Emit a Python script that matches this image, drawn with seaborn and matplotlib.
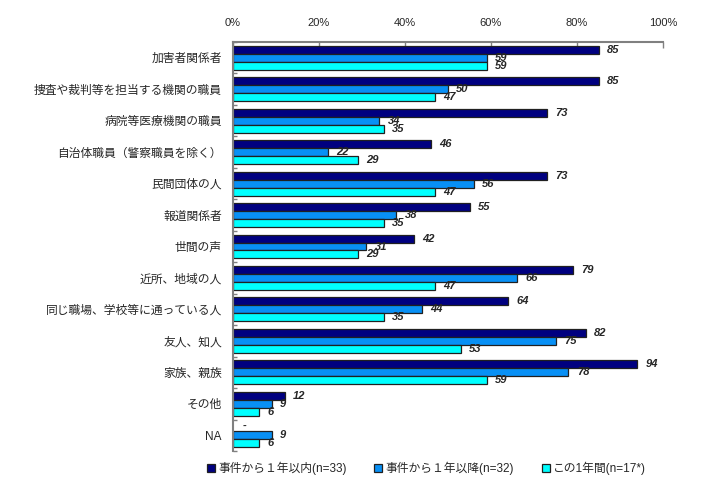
import numpy as np
import pandas as pd
import seaborn as sns
import matplotlib
matplotlib.use("Agg")
import matplotlib.pyplot as plt
from matplotlib.ticker import FixedLocator, FuncFormatter

categories = ["加害者関係者", "捜査や裁判等を担当する機関の職員", "病院等医療機関の職員",
              "自治体職員（警察職員を除く）", "民間団体の人", "報道関係者", "世間の声",
              "近所、地域の人", "同じ職場、学校等に通っている人", "友人、知人", "家族、親族",
              "その他", "NA"]
series_names = ["事件から１年以内(n=33)", "事件から１年以降(n=32)", "この1年間(n=17*)"]
s1 = [85, 85, 73, 46, 73, 55, 42, 79, 64, 82, 94, 12, np.nan]
s2 = [59, 50, 34, 22, 56, 38, 31, 66, 44, 75, 78, 9, 9]
s3 = [59, 47, 35, 29, 47, 35, 29, 47, 35, 53, 59, 6, 6]
colors = ["#000080", "#0890F5", "#00FFFF"]

sns.set_theme(style="white")
plt.rcParams["font.family"] = ["Liberation Sans", "Noto Sans CJK JP", "DejaVu Sans"]

rows = []
for name, vals in zip(series_names, [s1, s2, s3]):
    for c, v in zip(categories, vals):
        rows.append({"category": c, "series": name, "value": v})
df = pd.DataFrame(rows)

fig = plt.figure(figsize=(7.07, 4.94), dpi=100)
ax = fig.add_axes([233/707, 1-451/494, (663-233)/707, (451-42)/494])

sns.barplot(data=df, y="category", x="value", hue="series", order=categories,
            hue_order=series_names, palette=colors, orient="h", width=0.76,
            edgecolor="#202020", linewidth=0.9, ax=ax, saturation=1)

# value labels (seaborn skips NaN bars, so match patches to categories by position)
for k, (cont, vals) in enumerate(zip(ax.containers, [s1, s2, s3])):
    ref_patches = ax.containers[1].patches
    for i, v in enumerate(vals):
        rp = ref_patches[i]
        h = rp.get_height()
        yc = rp.get_y() + h / 2 + (k - 1) * h
        if np.isnan(v):
            ax.annotate("-", (0, yc), xytext=(7, 1), textcoords="offset points",
                        va="center", ha="left", fontsize=8, fontstyle="italic", fontweight="bold")
        else:
            ax.annotate(f"{int(v)}", (v, yc), xytext=(6, 0), textcoords="offset points",
                        va="center", ha="left", fontsize=8, fontstyle="italic", fontweight="bold")

ax.set_xlim(0, 100)
ax.set_ylim(len(categories) - 0.5, -0.5)
ax.set_xlabel("")
ax.set_ylabel("")

ax.xaxis.tick_top()
ax.set_xticks([0, 20, 40, 60, 80, 100])
ax.xaxis.set_major_formatter(FuncFormatter(lambda x, p: f"{int(x)}%"))
ax.tick_params(axis="x", which="major", direction="in", length=4, width=1, color="#808080",
               labelsize=8, pad=10, top=True, bottom=False)

ax.yaxis.set_minor_locator(FixedLocator(np.arange(-0.5, len(categories), 1.0)))
ax.tick_params(axis="y", which="major", length=0, labelsize=8.5, pad=8)
ax.tick_params(axis="y", which="minor", direction="in", length=3, width=1, color="#808080", left=True)

for s in ["right", "bottom"]:
    ax.spines[s].set_visible(False)
for s in ["top", "left"]:
    ax.spines[s].set_color("#808080")
    ax.spines[s].set_linewidth(1.5)

ax.legend(loc="upper center", bbox_to_anchor=(0.45, -0.015), ncol=3, frameon=False,
          fontsize=8.5, handlelength=0.7, handleheight=0.7, handletextpad=0.3,
          columnspacing=2.3, borderaxespad=0)

fig.savefig("out.png", dpi=100)
